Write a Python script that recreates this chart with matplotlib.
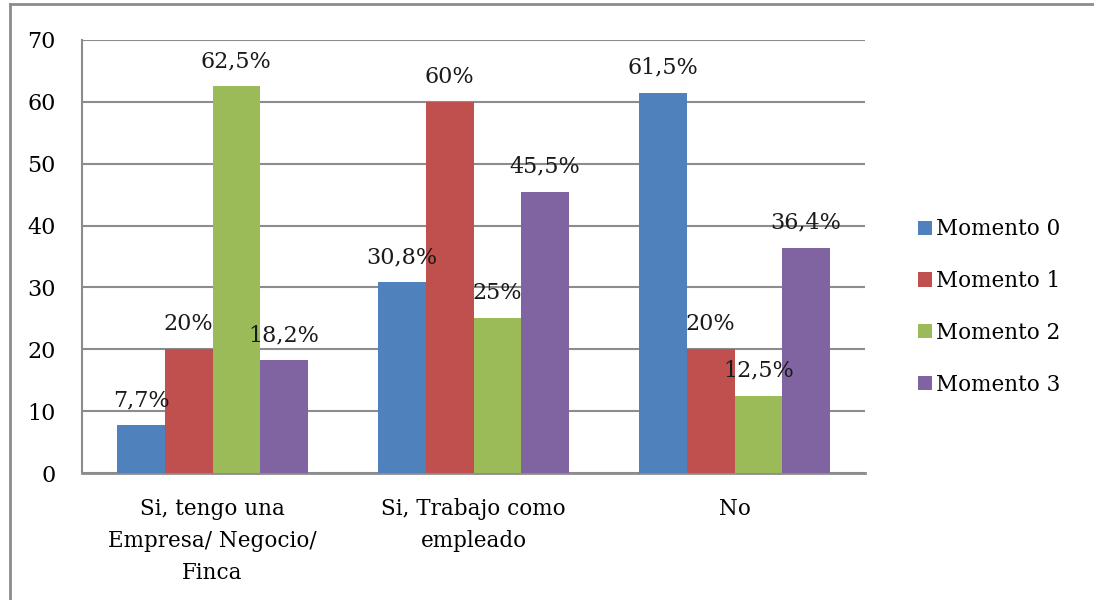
import matplotlib
matplotlib.use("Agg")
import matplotlib.pyplot as plt
import numpy as np
from matplotlib.lines import Line2D

categories = ["Si, tengo una\nEmpresa/ Negocio/\nFinca", "Si, Trabajo como\nempleado", "No"]
series_names = ["Momento 0", "Momento 1", "Momento 2", "Momento 3"]
momento0 = [7.7, 30.8, 61.5]
momento1 = [20, 60, 20]
momento2 = [62.5, 25, 12.5]
momento3 = [18.2, 45.5, 36.4]
labels0 = ["7,7%", "30,8%", "61,5%"]
labels1 = ["20%", "60%", "20%"]
labels2 = ["62,5%", "25%", "12,5%"]
labels3 = ["18,2%", "45,5%", "36,4%"]
yticks = [0, 10, 20, 30, 40, 50, 60, 70]

colors = ["#4F81BD", "#C0504D", "#9BBB59", "#8064A2"]
grid_c = "#8c8c8c"

plt.rcParams["font.family"] = ["DejaVu Serif"]

fig = plt.figure(figsize=(10.94, 6), dpi=100)
ax = fig.add_axes([82 / 1094, 1 - 473 / 600, (865 - 82) / 1094, (473 - 40) / 600])

x = np.arange(len(categories))
w = 0.182
all_vals = [momento0, momento1, momento2, momento3]
all_labels = [labels0, labels1, labels2, labels3]
for i, (vals, labs) in enumerate(zip(all_vals, all_labels)):
    pos = x + (i - 1.5) * w
    ax.bar(pos, vals, width=w, color=colors[i], label=series_names[i], zorder=3)
    for p, v, t in zip(pos, vals, labs):
        ax.annotate(t, (p, v), xytext=(0, 18), textcoords="offset points",
                    ha="center", va="center", fontsize=16, color="#1a1a1a", zorder=4)

ax.set_xlim(-0.5, 2.5)
ax.set_ylim(0, 70)
ax.set_yticks(yticks)
ax.set_yticklabels([str(t) for t in yticks], fontsize=16)
ax.set_xticks(x)
ax.set_xticklabels(categories, fontsize=15.5, linespacing=1.6)
ax.tick_params(axis="y", length=0, pad=19)
ax.tick_params(axis="x", length=0, pad=18)
ax.grid(axis="y", color=grid_c, linewidth=1.5, zorder=0)
for s in ["top", "right"]:
    ax.spines[s].set_visible(False)
ax.spines["left"].set_color(grid_c)
ax.spines["left"].set_linewidth(1.5)
ax.spines["bottom"].set_color(grid_c)
ax.spines["bottom"].set_linewidth(2)

leg = fig.legend(loc="center left", bbox_to_anchor=(909 / 1094, 1 - 307 / 600),
                 frameon=False, fontsize=15.5, handlelength=0.65, handleheight=0.65,
                 handletextpad=0.2, labelspacing=1.38, borderaxespad=0)

# outer frame of the original picture
fig.add_artist(Line2D([10 / 1094, 10 / 1094], [0, 1 - 4 / 600], color=grid_c, lw=2))
fig.add_artist(Line2D([10 / 1094, 1], [1 - 4 / 600, 1 - 4 / 600], color=grid_c, lw=2))

fig.savefig("out.png", dpi=100)
